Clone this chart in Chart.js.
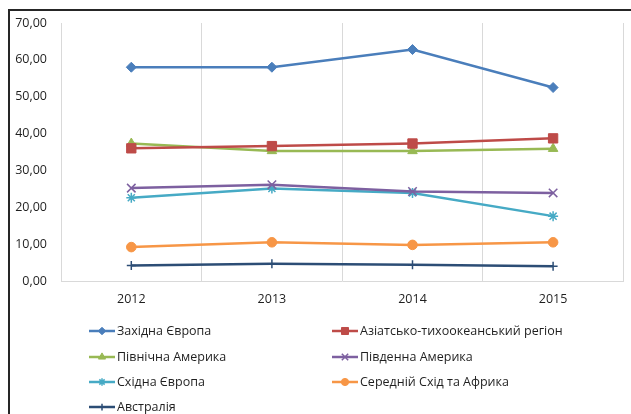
<!DOCTYPE html>
<html>
<head>
<meta charset="utf-8">
<script src="https://cdn.jsdelivr.net/npm/chart.js@4"></script>
<style>
  html, body { margin: 0; padding: 0; background: #fff; }
  #wrap { position: relative; width: 631px; height: 414px; overflow: hidden; }
  #frame { position: absolute; left: 8px; top: 9px; width: 700px; height: 500px;
           border-top: 2px solid #262626; border-left: 2px solid #262626; }
  canvas { position: absolute; left: 0; top: 0; }
</style>
</head>
<body>
<div id="wrap">
  <div id="frame"></div>
  <canvas id="chart" width="631" height="414"></canvas>
</div>
<script>
// Роки
const years = ['2012', '2013', '2014', '2015'];

// Значення по регіонах
const westEurope  = [58.0, 58.0, 62.8, 52.5];
const asiaPacific = [36.0, 36.6, 37.3, 38.7];
const northAm     = [37.3, 35.3, 35.3, 35.9];
const southAm     = [25.2, 26.1, 24.3, 23.9];
const eastEurope  = [22.6, 25.1, 23.9, 17.6];
const middleEast  = [9.2, 10.5, 9.8, 10.5];
const australia   = [4.2, 4.7, 4.4, 4.0];

const yTicks = [0, 10, 20, 30, 40, 50, 60, 70];

const FONT = "'Open Sans', sans-serif";
const TEXT = '#1f1f1f';

function ds(label, data, color, style, radius) {
  return {
    label, data,
    borderColor: color,
    backgroundColor: color,
    borderWidth: 2.5,
    pointStyle: style,
    pointRadius: radius,
    pointBorderWidth: (style === 'crossRot' || style === 'star' || style === 'cross') ? 1.5 : 1,
    pointBorderColor: color,
    pointBackgroundColor: color,
    tension: 0,
  };
}

// легенда у дві колонки
const gridLegend = {
  id: 'gridLegend',
  afterDraw(chart) {
    const ctx = chart.ctx;
    const cols = [89, 332];
    const rows = [331, 357, 382, 407];
    ctx.save();
    chart.data.datasets.forEach((d, i) => {
      const x = cols[i % 2], y = rows[Math.floor(i / 2)];
      ctx.strokeStyle = d.borderColor;
      ctx.fillStyle = d.borderColor;
      ctx.lineWidth = 2.5;
      ctx.beginPath();
      ctx.moveTo(x, y);
      ctx.lineTo(x + 26, y);
      ctx.stroke();
      ctx.lineWidth = d.pointBorderWidth;
      Chart.helpers.drawPoint(ctx, {
        pointStyle: d.pointStyle, radius: d.pointRadius * 0.75, rotation: 0, borderWidth: d.pointBorderWidth
      }, x + 13, y);
      ctx.fillStyle = TEXT;
      ctx.font = '12.5px ' + FONT;
      ctx.textBaseline = 'middle';
      ctx.fillText(d.label, x + 28, y);
    });
    ctx.restore();
  }
};

new Chart(document.getElementById('chart'), {
  type: 'line',
  data: {
    labels: years,
    datasets: [
      ds('Західна Європа', westEurope, '#4a7ebb', 'rectRot', 5),
      ds('Азіатсько-тихоокеанський регіон', asiaPacific, '#be4b48', 'rect', 6.6),
      ds('Північна Америка', northAm, '#98b954', 'triangle', 5.5),
      ds('Південна Америка', southAm, '#7d60a0', 'crossRot', 6),
      ds('Східна Європа', eastEurope, '#46aac5', 'star', 5),
      ds('Середній Схід та Африка', middleEast, '#f79646', 'circle', 4.8),
      ds('Австралія', australia, '#2c4d75', 'cross', 4.5),
    ]
  },
  options: {
    responsive: false,
    animation: false,
    layout: { padding: { top: 23, right: 5, left: 0, bottom: 0 } },
    plugins: { legend: { display: false }, tooltip: { enabled: false } },
    scales: {
      x: {
        offset: true,
        grid: { offset: true, color: '#d9d9d9', drawTicks: false },
        border: { color: '#d9d9d9' },
        ticks: { color: TEXT, font: { family: FONT, size: 12.5 }, padding: 11 },
        afterFit: s => { s.height = 133; },
      },
      y: {
        min: 0, max: 70,
        afterBuildTicks: s => { s.ticks = yTicks.map(v => ({ value: v })); },
        grid: { display: false, drawTicks: false },
        border: { color: '#d9d9d9' },
        ticks: {
          color: TEXT, font: { family: FONT, size: 12.5 }, padding: 14,
          callback: v => v.toFixed(2).replace('.', ','),
        },
        afterFit: s => { s.width = 61; },
      }
    }
  },
  plugins: [gridLegend]
});
</script>
</body>
</html>
